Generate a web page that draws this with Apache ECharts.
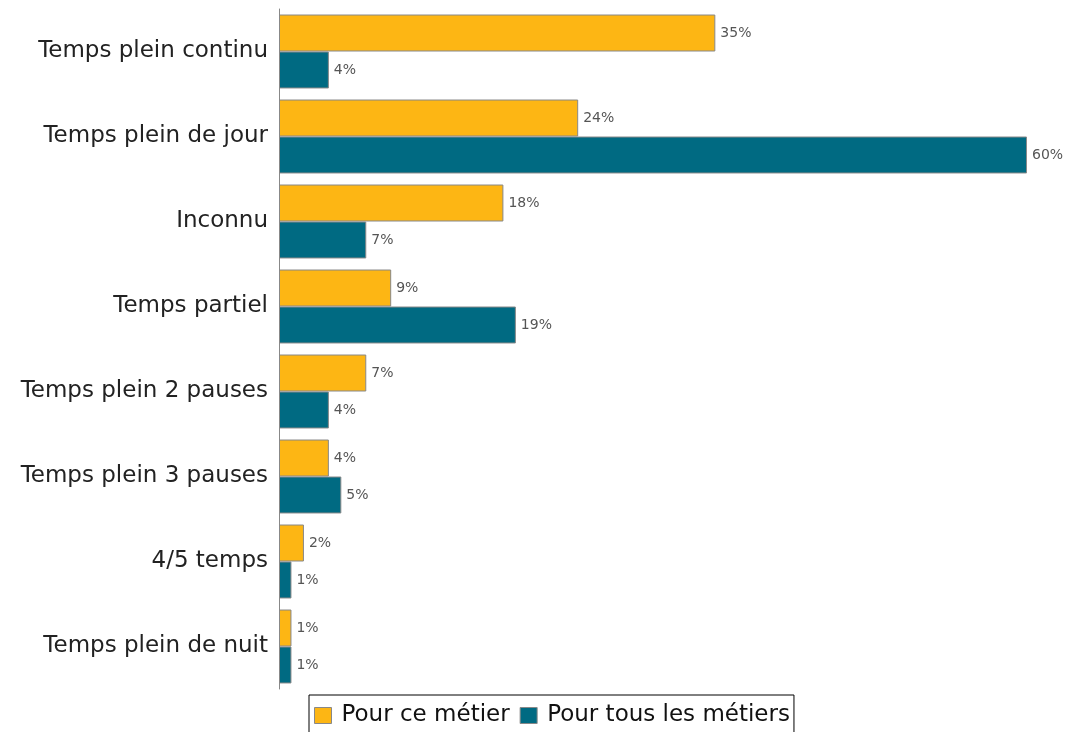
<!DOCTYPE html>
<html lang="fr">

<head>
    <meta charset="UTF-8">
    <title>Temps de travail</title>
    <script src="https://cdnjs.cloudflare.com/ajax/libs/echarts/6.0.0/echarts.min.js"></script>
    <style>
        body { margin: 0; background: #fff; }
        #main { width: 1066px; height: 732px; }
    </style>
</head>

<body>
    <div id="main"></div>

    <script>
        const categories = ["Temps plein continu", "Temps plein de jour", "Inconnu", "Temps partiel",
            "Temps plein 2 pauses", "Temps plein 3 pauses", "4/5 temps", "Temps plein de nuit"];
        const ceMetier = [35, 24, 18, 9, 7, 4, 2, 1];
        const tousMetiers = [4, 60, 7, 19, 4, 5, 1, 1];

        const chart = echarts.init(document.getElementById('main'));

        const barLabel = {
            show: true,
            position: 'right',
            distance: 5,
            formatter: '{c}%',
            fontFamily: 'DejaVu Sans',
            fontSize: 14,
            color: '#555'
        };

        const option = {
            animation: false,
            grid: { left: 279, top: 9, width: 748, height: 680 },
            legend: {
                left: 309,
                top: 695,
                padding: [9, 4, 9, 5],
                borderColor: '#000',
                borderWidth: 1,
                itemWidth: 17,
                itemHeight: 16,
                itemGap: 10,
                icon: 'rect',
                itemStyle: { borderColor: '#888', borderWidth: 1 },
                textStyle: { fontFamily: 'DejaVu Sans', fontSize: 23, color: '#111', padding: [0, 0, 0, 5] },
                data: ['Pour ce métier', 'Pour tous les métiers']
            },
            xAxis: {
                type: 'value',
                min: 0,
                max: 60,
                show: false
            },
            yAxis: {
                type: 'category',
                inverse: true,
                data: categories,
                axisLine: { lineStyle: { color: '#888', width: 1 } },
                axisTick: { show: false },
                axisLabel: {
                    fontFamily: 'DejaVu Sans',
                    fontSize: 23,
                    color: '#222',
                    margin: 11
                }
            },
            series: [
                {
                    name: 'Pour ce métier',
                    type: 'bar',
                    data: ceMetier,
                    barGap: '0%',
                    barCategoryGap: '13%',
                    itemStyle: { color: '#FDB614', borderColor: '#888', borderWidth: 1 },
                    label: barLabel
                },
                {
                    name: 'Pour tous les métiers',
                    type: 'bar',
                    data: tousMetiers,
                    itemStyle: { color: '#006A82', borderColor: '#888', borderWidth: 1 },
                    label: barLabel
                }
            ]
        };

        chart.setOption(option);
    </script>
</body>

</html>
